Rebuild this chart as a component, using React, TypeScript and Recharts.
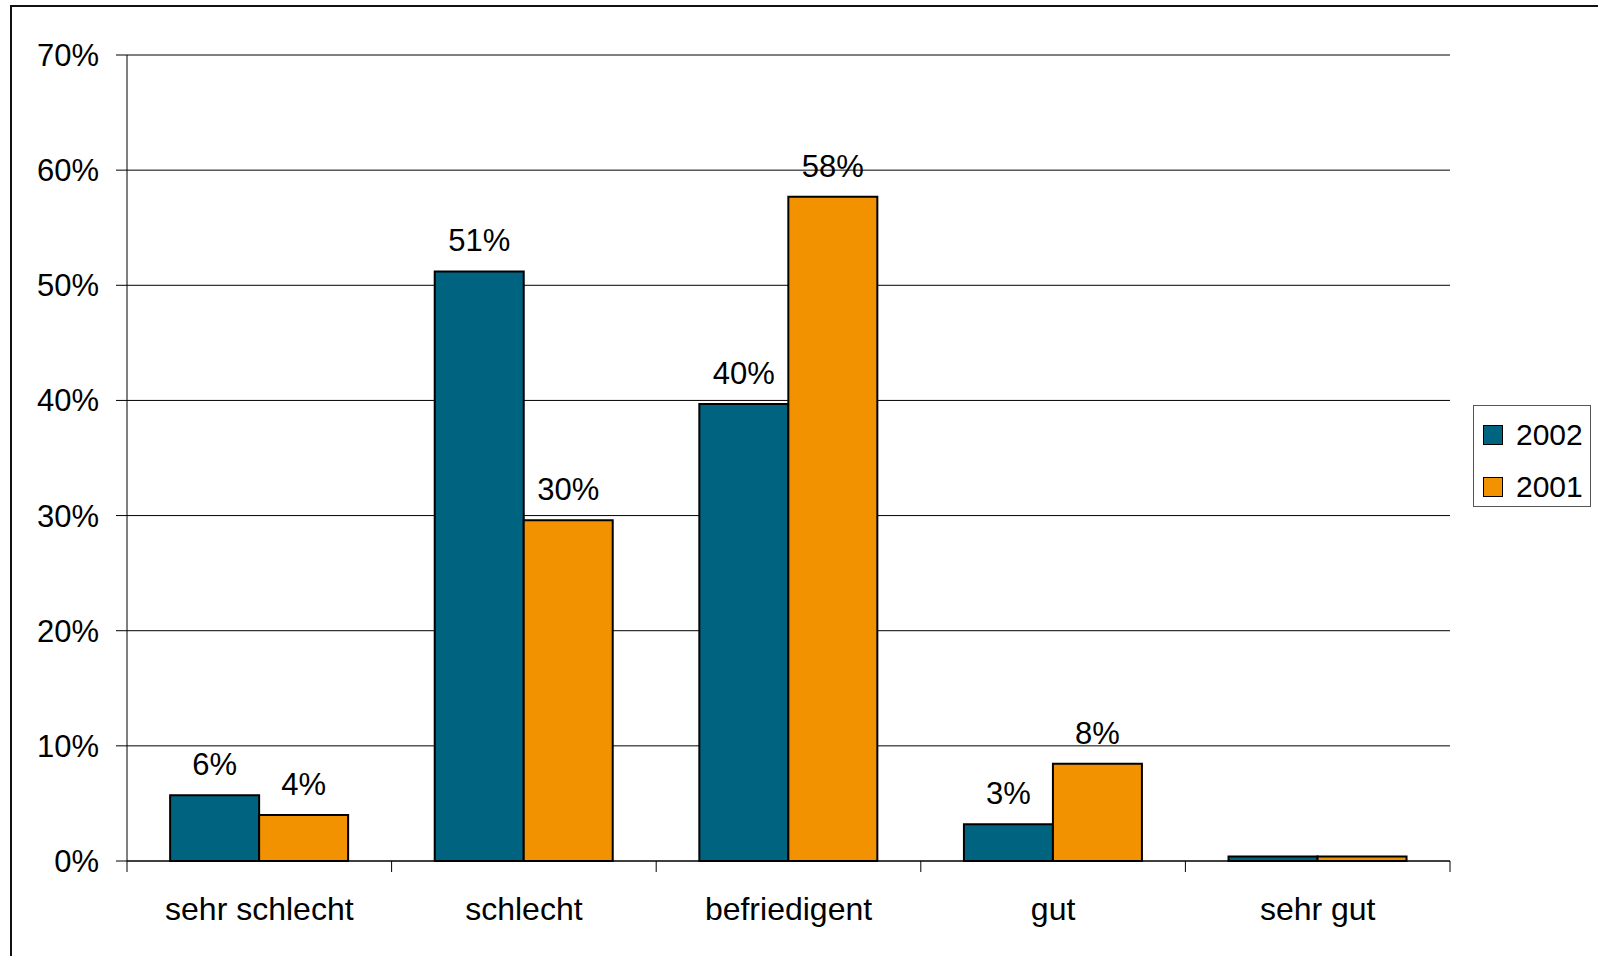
import React from "react";
import {
  BarChart,
  Bar,
  XAxis,
  YAxis,
  CartesianGrid,
  Legend,
  LabelList,
} from "recharts";

const categories = ["sehr schlecht", "schlecht", "befriedigent", "gut", "sehr gut"];
const values2002 = [5.7, 51.2, 39.7, 3.2, 0.4];
const values2001 = [4.0, 29.6, 57.7, 8.45, 0.4];
const yTicks = [0, 10, 20, 30, 40, 50, 60, 70];

const series = [
  { key: "y2002", name: "2002", color: "#006380" },
  { key: "y2001", name: "2001", color: "#F39200" },
];

const data = categories.map((name, i) => ({
  name,
  y2002: values2002[i],
  y2001: values2001[i],
}));

const FONT = '"Liberation Sans", Arial, sans-serif';
const X_TICK_MARGIN = 36;
const X_TICK_LEN = 11;

const pct = (v: any) => (Number(v) < 1 ? "" : `${Math.round(Number(v))}%`);

// category label + Excel-style tick marks on the category boundaries
const CatTick = (props: any) => {
  const { x, y, payload, index, visibleTicksCount } = props;
  const half = payload.offset ?? 0;
  const axisY = y - X_TICK_MARGIN;
  return (
    <g>
      <line x1={x - half} x2={x - half} y1={axisY} y2={axisY + X_TICK_LEN} stroke="#000" />
      {index === visibleTicksCount - 1 && (
        <line x1={x + half} x2={x + half} y1={axisY} y2={axisY + X_TICK_LEN} stroke="#000" />
      )}
      <text x={x} y={y} dy="0.71em" textAnchor="middle" fill="#000" fontSize={32} fontFamily={FONT}>
        {payload.value}
      </text>
    </g>
  );
};

const LegendBox = () => (
  <div
    style={{
      border: "1px solid #555",
      background: "#fff",
      width: 116,
      height: 100,
      boxSizing: "content-box",
      fontFamily: FONT,
      fontSize: 30,
      color: "#000",
      position: "relative",
    }}
  >
    {series.map((s, i) => (
      <div
        key={s.key}
        style={{ position: "absolute", left: 9, top: 18 + i * 52, display: "flex", alignItems: "center" }}
      >
        <span
          style={{
            display: "inline-block",
            width: 18,
            height: 18,
            background: s.color,
            border: "1px solid #000",
            marginRight: 13,
          }}
        />
        <span style={{ lineHeight: "22px" }}>{s.name}</span>
      </div>
    ))}
  </div>
);

export default function App() {
  return (
    <div style={{ position: "absolute", left: 0, top: 0, width: 1598, height: 956, background: "#fff", overflow: "hidden" }}>
      <div
        style={{
          position: "absolute",
          left: 10,
          top: 5,
          width: 1620,
          height: 980,
          border: "2px solid #111",
        }}
      />
      <BarChart
        width={1598}
        height={956}
        data={data}
        margin={{ top: 55, right: 148, bottom: 25, left: 0 }}
        barCategoryGap="16.3%"
        barGap={0}
        style={{ position: "absolute", left: 0, top: 0, fontFamily: FONT }}
      >
        <CartesianGrid vertical={false} stroke="#000" strokeWidth={1} />
        <XAxis
          dataKey="name"
          tickLine={false}
          tickSize={0}
          tickMargin={X_TICK_MARGIN}
          axisLine={{ stroke: "#000" }}
          height={70}
          interval={0}
          tick={<CatTick />}
        />
        <YAxis
          width={127}
          domain={[0, 70]}
          ticks={yTicks}
          tickFormatter={(v) => `${v}%`}
          tickSize={11}
          tickMargin={17}
          axisLine={{ stroke: "#000" }}
          tickLine={{ stroke: "#000" }}
          tick={{ fill: "#000", fontSize: 31, fontFamily: FONT }}
        />
        <Legend
          layout="vertical"
          align="center"
          verticalAlign="middle"
          wrapperStyle={{ left: 1473, top: 405, width: "auto" }}
          content={() => <LegendBox />}
        />
        {series.map((s) => (
          <Bar
            key={s.key}
            dataKey={s.key}
            name={s.name}
            fill={s.color}
            stroke="#000"
            strokeWidth={2}
            isAnimationActive={false}
          >
            <LabelList
              dataKey={s.key}
              position="top"
              offset={20}
              formatter={pct}
              style={{ fill: "#000", fontSize: 31, fontFamily: FONT }}
            />
          </Bar>
        ))}
      </BarChart>
    </div>
  );
}
